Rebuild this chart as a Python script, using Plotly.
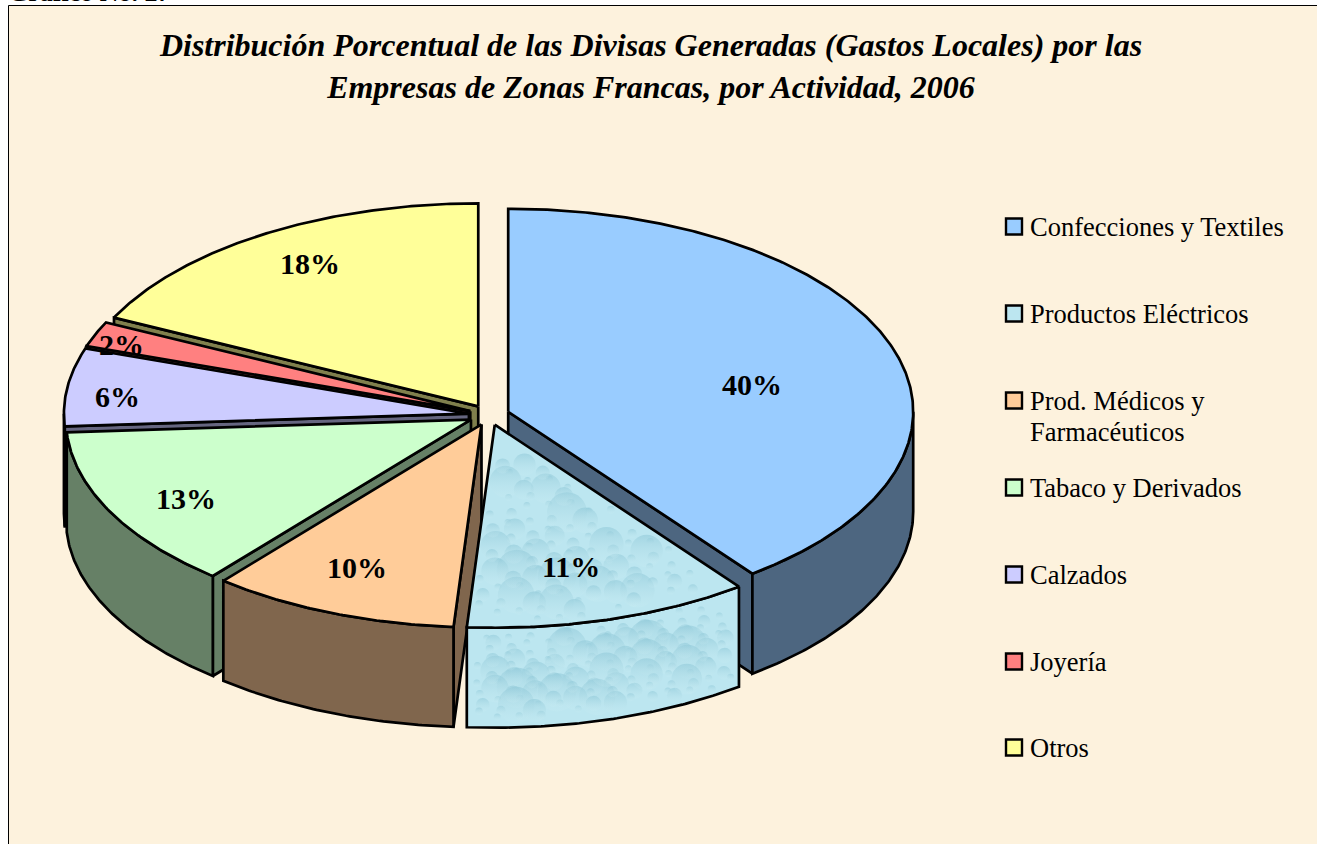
import math
import plotly.graph_objects as go

# ---- data ----
CATEGORIES = ["Confecciones y Textiles", "Productos Eléctricos", "Prod. Médicos y<br>Farmacéuticos",
              "Tabaco y Derivados", "Calzados", "Joyería", "Otros"]
VALUES = [39.7, 11.4, 9.9, 13.0, 6.2, 2.0, 17.8]
TOP_COLORS = ["#99CCFF", "#BCE6F0", "#FFCC99", "#CCFFCC", "#CCCCFF", "#FF8080", "#FFFF99"]
WALL_COLORS = ["#4D6680", "#BCE6F0", "#80664D", "#668066", "#666680", "#804040", "#80804D"]
LABEL_RX = [0.635, 0.66, 0.83, 0.79, 0.875, 0.93, 0.785]
LABEL_RY = [0.43, 0.73, 0.76, 0.86, 0.64, 0.87, 0.83]
DRAW_ORDER = [6, 5, 4, 0, 3, 2, 1]

TITLE = ("<b><i>Distribución Porcentual de las Divisas Generadas (Gastos Locales) por las<br>"
         "Empresas de Zonas Francas, por Actividad, 2006</i></b>")
CAPTION = "<b>Gráfico No. 27</b>"

# ---- geometry of the tilted pie, in axis units ----
W, H = 1317, 844
CX, CY, A, B, DEPTH, EXPLODE = 489, 415, 405, 203, 100, 0.05
LEGEND_Y = [228, 315, 402, 489, 576, 663, 749]
PAPER = "#FDF2DD"
FONT = "Liberation Serif"
EDGE = dict(color="black", width=2.7)


def pt(theta, cx, cy, r=1.0):
    t = math.radians(theta)
    return cx + A * r * math.sin(t), cy - B * r * math.cos(t)


def arc(t1, t2, cx, cy, dy=0):
    n = max(2, int(abs(t2 - t1) * 2))
    pts = [pt(t1 + (t2 - t1) * i / n, cx, cy) for i in range(n + 1)]
    return [(x, y + dy) for x, y in pts]


def closed(points):
    return [p[0] for p in points] + [points[0][0]], [p[1] for p in points] + [points[0][1]]


def inside(x, y, points):
    hit = False
    n = len(points)
    for i in range(n):
        x1, y1 = points[i]
        x2, y2 = points[(i + 1) % n]
        if (y1 > y) != (y2 > y) and x < x1 + (y - y1) * (x2 - x1) / (y2 - y1):
            hit = not hit
    return hit


fig = go.Figure()


def add_poly(points, fill, textured=False):
    xs, ys = closed(points)
    fig.add_trace(go.Scatter(x=xs, y=ys, mode="lines", fill="toself", fillcolor=fill, line=EDGE,
                             hoverinfo="skip", showlegend=False))
    if not textured:
        return
    # soft decorative water drops kept inside the face
    x0, x1 = min(xs), max(xs)
    y0, y1 = min(ys), max(ys)
    dx, dy, sizes = [], [], []
    for k in range(1, 260):
        x = x0 + (x1 - x0) * ((k * 0.754877) % 1)
        y = y0 + (y1 - y0) * ((k * 0.569840) % 1)
        s = 7 + 34 * ((k * 0.381966) % 1) ** 3
        r = s / 2 + 2
        ring = [(x + r * math.cos(j * math.pi / 4), y + r * math.sin(j * math.pi / 4)) for j in range(8)]
        if all(inside(a, b, points) for a, b in ring):
            dx.append(x)
            dy.append(y)
            sizes.append(s)
    fig.add_trace(go.Scatter(x=dx, y=dy, mode="markers", hoverinfo="skip", showlegend=False,
                             marker=dict(size=sizes, color="rgba(140,198,214,0.75)",
                                         gradient=dict(type="vertical", color="rgba(205,238,244,0.25)"),
                                         line=dict(width=0))))


# slice angles
starts, acc = [], 0
for v in VALUES:
    starts.append(acc * 3.6)
    acc += v

for i in DRAW_ORDER:
    t1 = starts[i]
    t2 = t1 + VALUES[i] * 3.6
    ax, ay = pt((t1 + t2) / 2, CX, CY, EXPLODE)
    wall = WALL_COLORS[i]
    textured = i == 1
    # radial walls that face the viewer
    for t, visible in ((t1, 180 < t1 < 360), (t2, 0 < t2 < 180)):
        if visible:
            ox, oy = pt(t, ax, ay)
            add_poly([(ax, ay), (ox, oy), (ox, oy + DEPTH), (ax, ay + DEPTH)], wall)
    # outer wall (front half only)
    lo, hi = max(t1, 90), min(t2, 270)
    if lo < hi:
        add_poly(arc(lo, hi, ax, ay) + arc(hi, lo, ax, ay, DEPTH), wall, textured)
    # top face
    add_poly([(ax, ay)] + arc(t1, t2, ax, ay), TOP_COLORS[i], textured)

# percentage labels
for i, v in enumerate(VALUES):
    mid = starts[i] + v * 1.8
    ax, ay = pt(mid, CX, CY, EXPLODE)
    t = math.radians(mid)
    fig.add_annotation(x=ax + A * LABEL_RX[i] * math.sin(t), y=ay - B * LABEL_RY[i] * math.cos(t),
                       text=f"<b>{round(v)}%</b>", showarrow=False,
                       font=dict(family=FONT, size=30, color="black"))

# legend
for i, name in enumerate(CATEGORIES):
    fig.add_trace(go.Scatter(x=[1014], y=[LEGEND_Y[i] - 1.5], mode="markers", showlegend=False, hoverinfo="skip",
                             marker=dict(symbol="square", size=16, color=TOP_COLORS[i],
                                         line=dict(color="black", width=2.4))))
    for j, line in enumerate(name.split("<br>")):
        fig.add_annotation(x=1028, y=LEGEND_Y[i] - 1 + 31 * j, text=line, showarrow=False, xanchor="left",
                           align="left", font=dict(family=FONT, size=26.5, color="black"))

fig.add_annotation(xref="paper", yref="paper", x=6 / W, y=1 + 7 / H, text=CAPTION, showarrow=False,
                   xanchor="left", yanchor="middle", font=dict(family=FONT, size=26, color="black"))

fig.update_layout(
    width=W, height=H, margin=dict(l=0, r=0, t=0, b=0), autosize=False,
    paper_bgcolor="white", plot_bgcolor="white", showlegend=False,
    title=dict(text=TITLE, x=651 / W, xanchor="center", y=1 - 56 / H, yanchor="middle",
               font=dict(family=FONT, size=32, color="black")),
    xaxis=dict(range=[0, W], visible=False, fixedrange=True),
    yaxis=dict(range=[H, 0], visible=False, fixedrange=True),
    shapes=[dict(type="rect", xref="x", yref="y", x0=8.5, y0=5.5, x1=W + 20, y1=H + 20, layer="below",
                 fillcolor=PAPER, line=dict(color="black", width=1))],
)

fig.write_html("out.html", config=dict(displayModeBar=False),
               post_script="document.body.style.margin='0';document.documentElement.style.overflow='hidden';")
